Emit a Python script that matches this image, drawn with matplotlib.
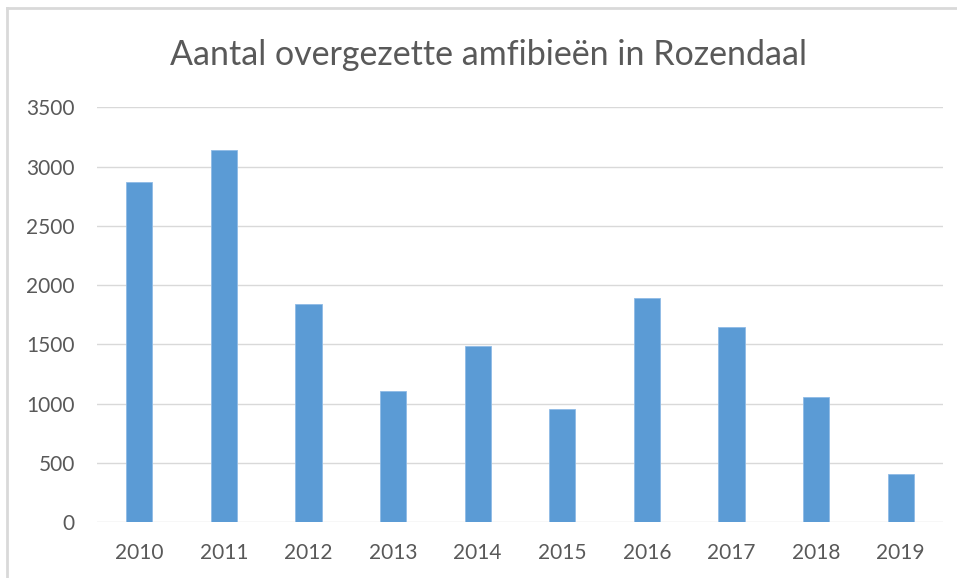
import matplotlib
matplotlib.use("Agg")
import matplotlib.pyplot as plt
import numpy as np

years = ["2010", "2011", "2012", "2013", "2014", "2015", "2016", "2017", "2018", "2019"]
counts = [2869, 3139, 1839, 1104, 1484, 954, 1894, 1644, 1053, 403]
y_ticks = [0, 500, 1000, 1500, 2000, 2500, 3000, 3500]

plt.rcParams["font.family"] = ["Lato", "DejaVu Sans"]

W, H = 957, 578
fig = plt.figure(figsize=(W / 100, H / 100), dpi=100)
fig.patch.set_facecolor("white")

# outer chart frame (only top and left edges are visible in the crop)
fig.add_artist(plt.Line2D([7 / W, 7 / W], [0, 1 - 8 / H], color="#d9d9d9", lw=2))
fig.add_artist(plt.Line2D([7 / W, 1], [1 - 8 / H, 1 - 8 / H], color="#d9d9d9", lw=2))

ax = fig.add_axes([97 / W, 56 / H, 846 / W, (522 - 107.5) / H])
x = np.arange(len(years))
ax.bar(x, counts, width=0.31, color="#5b9bd5", edgecolor="#8fbbe6", linewidth=0.6, zorder=3)

ax.set_xlim(-0.5, len(years) - 0.5)
ax.set_ylim(0, 3500)
ax.set_yticks(y_ticks)
ax.set_yticklabels([str(v) for v in y_ticks])
ax.set_xticks(x)
ax.set_xticklabels(years)
ax.tick_params(axis="both", length=0, labelsize=15, colors="#595959")
ax.tick_params(axis="y", pad=16)
ax.tick_params(axis="x", pad=15)
ax.grid(axis="y", color="#d9d9d9", lw=1, zorder=0)
for s in ax.spines.values():
    s.set_visible(False)

fig.text(488 / W, 1 - 55 / H, "Aantal overgezette amfibieën in Rozendaal",
         ha="center", va="center", fontsize=24.5, color="#595959")

fig.savefig("out.png", dpi=100)
